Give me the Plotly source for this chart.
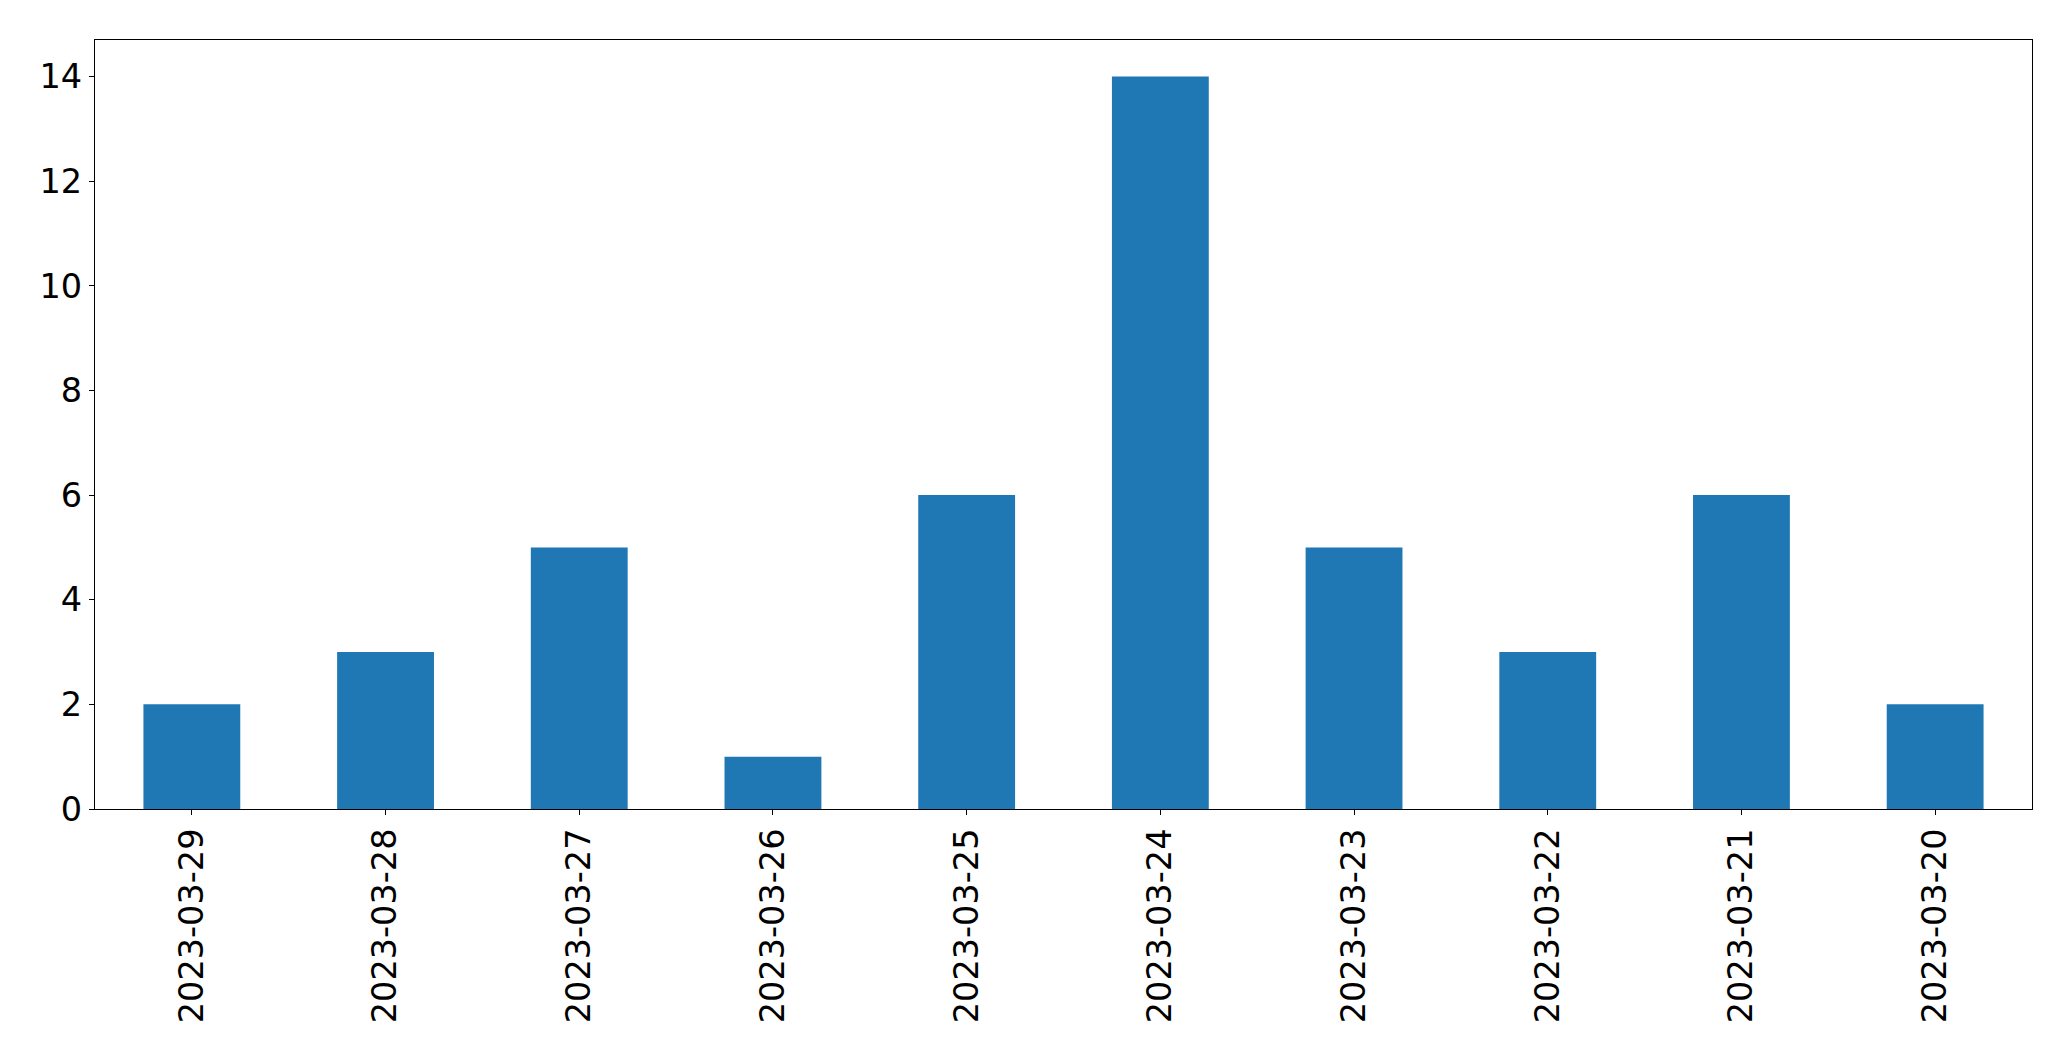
import plotly.graph_objects as go

dates = ["2023-03-29", "2023-03-28", "2023-03-27", "2023-03-26", "2023-03-25",
         "2023-03-24", "2023-03-23", "2023-03-22", "2023-03-21", "2023-03-20"]
counts = [2, 3, 5, 1, 6, 14, 5, 3, 6, 2]
y_ticks = [0, 2, 4, 6, 8, 10, 12, 14]

fig = go.Figure(go.Bar(x=dates, y=counts, width=0.5, marker_color="#1f77b4",
                       marker_line_width=0))

font = dict(family="DejaVu Sans", size=33.5, color="black")
fig.update_layout(
    width=2071, height=1061,
    margin=dict(l=94.5, r=39, t=39.5, b=252, pad=0),
    plot_bgcolor="white", paper_bgcolor="white",
    showlegend=False, font=font,
)
fig.update_xaxes(type="category", range=[-0.5, 9.5], tickangle=-90,
                 showline=True, mirror=True, linecolor="black", linewidth=1.3,
                 ticks="outside", ticklen=5, tickwidth=1.3, tickcolor="black",
                 showgrid=False, zeroline=False, tickfont=font)
fig.update_yaxes(range=[0, 14.7], tickvals=y_ticks,
                 showline=True, mirror=True, linecolor="black", linewidth=1.3,
                 ticks="outside", ticklen=5, tickwidth=1.3, tickcolor="black",
                 showgrid=False, zeroline=False, tickfont=font)

fig.write_html("out.html", config={"displayModeBar": False},
               post_script="document.body.style.margin='0';document.body.style.overflow='hidden';")
